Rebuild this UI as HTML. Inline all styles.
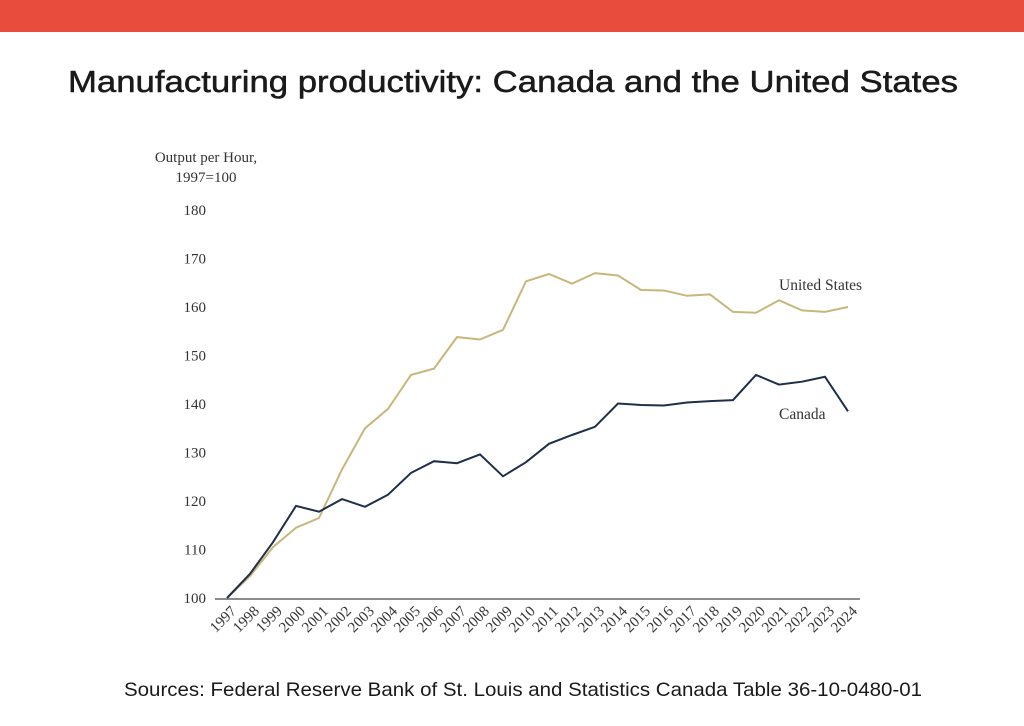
<!DOCTYPE html>
<html><head><meta charset="utf-8"><style>
body{margin:0;width:1024px;height:721px;background:#fff;overflow:hidden}
.sans{font-family:"Liberation Sans",sans-serif}
.serif{font-family:"Liberation Serif",serif}
</style></head><body>
<svg width="1024" height="721" viewBox="0 0 1024 721">
<rect x="0" y="0" width="1024" height="32" fill="#e84c3d"/>
<text x="68" y="92" textLength="890" lengthAdjust="spacingAndGlyphs" class="sans" font-size="31" fill="#1a1a1a" stroke="#1a1a1a" stroke-width="0.5">Manufacturing productivity: Canada and the United States</text>
<text x="206" y="162" text-anchor="middle" class="serif" font-size="15" fill="#333">Output per Hour,</text>
<text x="206" y="182" text-anchor="middle" class="serif" font-size="15" fill="#333">1997=100</text>
<line x1="215" y1="599" x2="860" y2="599" stroke="#666" stroke-width="1.5"/>
<g id="yt"></g><g id="xt"></g><g id="lines"></g>
<text x="779" y="290" class="serif" font-size="15.5" fill="#333">United States</text>
<text x="779" y="419" class="serif" font-size="15.5" fill="#333">Canada</text>
<text x="124" y="696" textLength="798" lengthAdjust="spacingAndGlyphs" class="sans" font-size="19.5" fill="#1a1a1a">Sources: Federal Reserve Bank of St. Louis and Statistics Canada Table 36-10-0480-01</text>
</svg>
<script>
const years=[1997,1998,1999,2000,2001,2002,2003,2004,2005,2006,2007,2008,2009,2010,2011,2012,2013,2014,2015,2016,2017,2018,2019,2020,2021,2022,2023,2024];
const usValues=[100,104.5,110.5,114.5,116.5,126.5,135,139,146,147.3,153.8,153.3,155.3,165.3,166.8,164.8,167,166.5,163.5,163.4,162.3,162.6,159,158.8,161.4,159.3,159,160];
const canadaValues=[100,105,111.5,119,117.8,120.4,118.8,121.3,125.8,128.2,127.8,129.6,125.1,128,131.8,133.6,135.3,140.1,139.8,139.7,140.3,140.6,140.8,146,144,144.6,145.6,138.5];
const yTicks=[100,110,120,130,140,150,160,170,180];
const NS="http://www.w3.org/2000/svg";
function xs(i){return 227+i*(848-227)/(years.length-1);}
function ys(v){return 598-(v-100)*(598-210)/80;}
const yt=document.getElementById('yt');
yTicks.forEach(v=>{const t=document.createElementNS(NS,'text');
t.setAttribute('x',206);t.setAttribute('y',ys(v)+5);t.setAttribute('text-anchor','end');
t.setAttribute('class','serif');t.setAttribute('font-size','15');t.setAttribute('fill','#333');
t.textContent=v;


yt.appendChild(t);});
const xt=document.getElementById('xt');
years.forEach((y,i)=>{const t=document.createElementNS(NS,'text');
const x=xs(i)+10,yy=612;
t.setAttribute('x',x);t.setAttribute('y',yy);t.setAttribute('text-anchor','end');
t.setAttribute('transform','rotate(-45 '+x+' '+yy+')');
t.setAttribute('class','serif');t.setAttribute('font-size','15');t.setAttribute('fill','#333');
t.textContent=y;


xt.appendChild(t);});
const lg=document.getElementById('lines');
function line(vals,color,name){const p=document.createElementNS(NS,'polyline');
p.setAttribute('points',vals.map((v,i)=>xs(i).toFixed(1)+','+ys(v).toFixed(1)).join(' '));
p.setAttribute('fill','none');p.setAttribute('stroke',color);p.setAttribute('stroke-width','2');


lg.appendChild(p);}
line(usValues,'#c8b67a','line-united-states');
line(canadaValues,'#1f2f4a','line-canada');
</script>
</body></html>
